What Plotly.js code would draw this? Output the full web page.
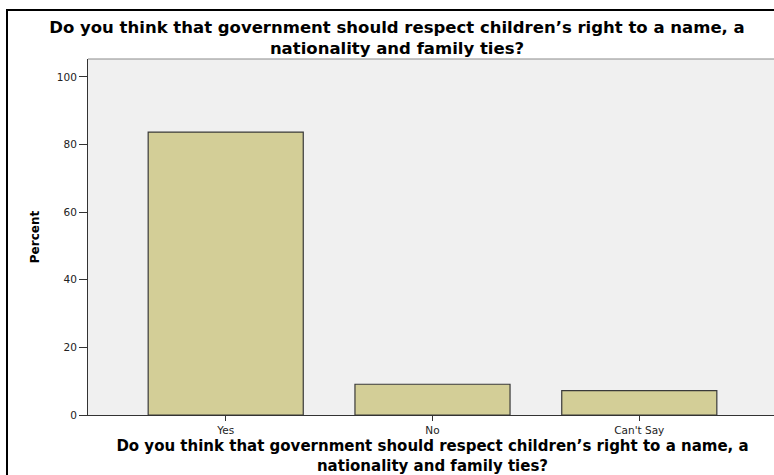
<!DOCTYPE html>
<html>
<head>
<meta charset="utf-8">
<script src="https://cdn.plot.ly/plotly-3.0.1.min.js"></script>
<style>
html, body { margin: 0; padding: 0; width: 774px; height: 475px; overflow: hidden; background: #fff; }
#chart { width: 790px; height: 475px; }
</style>
</head>
<body>
<div id="chart"></div>
<script>
const categories = ['Yes', 'No', "Can't Say"];
const percentValues = [83.7, 9.1, 7.2];
const yTickValues = [0, 20, 40, 60, 80, 100];
const titleText = 'Do you think that government should respect children’s right to a name, a<br>nationality and family ties?';

const trace = {
  type: 'bar',
  x: categories,
  y: percentValues,
  marker: { color: '#d3ce97', line: { color: '#3a3a3a', width: 1.2 } },
  hoverinfo: 'x+y'
};

const layout = {
  width: 790,
  height: 475,
  margin: { l: 88, r: 13, t: 59, b: 60, pad: 0 },
  paper_bgcolor: '#ffffff',
  plot_bgcolor: '#f0f0f0',
  bargap: 0.25,
  showlegend: false,
  title: {
    text: titleText,
    font: { family: 'DejaVu Sans', size: 16.5, color: '#000', weight: 'bold' },
    xref: 'container', x: 397 / 790, xanchor: 'center',
    yref: 'container', y: 1 - 33 / 475, yanchor: 'top'
  },
  xaxis: {
    type: 'category',
    range: [-0.666, 2.666],
    showgrid: false, zeroline: false,
    showline: true, linecolor: '#333', linewidth: 1,
    ticks: 'outside', ticklen: 5, tickcolor: '#333', tickwidth: 1,
    tickfont: { family: 'DejaVu Sans', size: 10.5, color: '#222' },
    title: {
      text: titleText,
      font: { family: 'DejaVu Sans', size: 15, color: '#000', weight: 'bold' },
      standoff: 6
    }
  },
  yaxis: {
    range: [0, 105.3],
    tickvals: yTickValues,
    ticktext: yTickValues.map(String),
    showgrid: false, zeroline: false,
    showline: true, linecolor: '#333', linewidth: 1,
    ticks: 'outside', ticklen: 8, tickcolor: '#333', tickwidth: 1,
    tickfont: { family: 'DejaVu Sans', size: 10.5, color: '#222' },
    title: {
      text: 'Percent',
      font: { family: 'DejaVu Sans', size: 12, color: '#000', weight: 'bold' },
      standoff: 14
    }
  },
  shapes: [
    { type: 'line', xref: 'paper', yref: 'paper', x0: 0, x1: 1, y0: 1, y1: 1,
      line: { color: '#8a8a8a', width: 1 } },
    { type: 'rect', xref: 'paper', yref: 'paper',
      x0: (7 - 88) / 689, x1: 1.2, y0: -0.3, y1: (415 - 10) / 356,
      line: { color: '#000', width: 2 }, fillcolor: 'rgba(0,0,0,0)', layer: 'above' }
  ]
};

Plotly.newPlot('chart', [trace], layout, { displayModeBar: false, staticPlot: true });
</script>
</body>
</html>
